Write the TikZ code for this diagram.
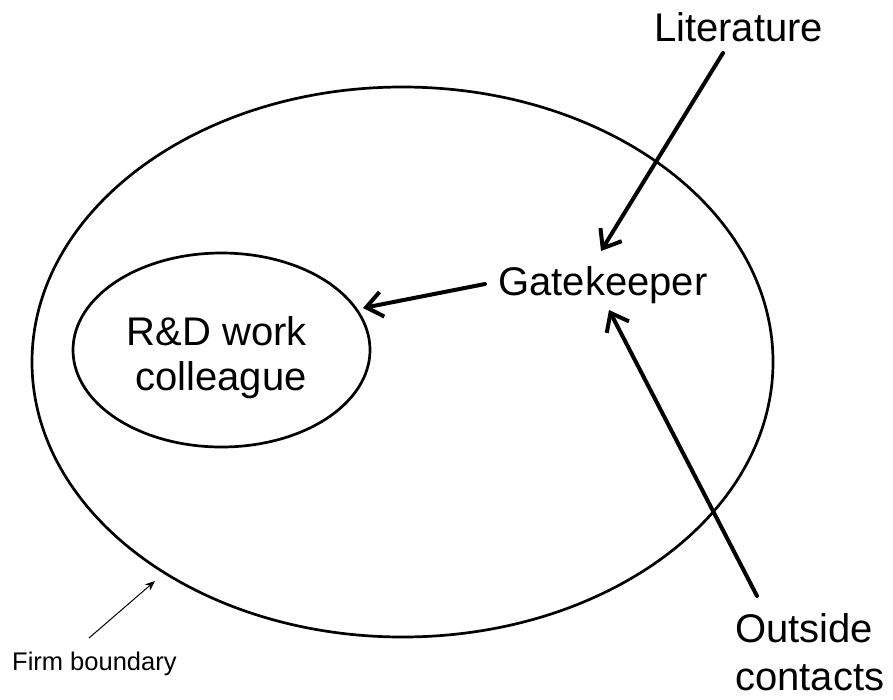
\documentclass[tikz,border=0pt]{standalone}
\usepackage{fontspec}
\setmainfont{Liberation Sans}
\usetikzlibrary{arrows.meta,shapes.geometric}
\begin{document}
\begin{tikzpicture}[x=1pt,y=-1pt,
  lbl/.style={inner sep=0pt, anchor=base, font=\fontsize{40}{45}\selectfont},
  lblw/.style={inner sep=0pt, anchor=base west, font=\fontsize{40}{45}\selectfont},
  small/.style={inner sep=0pt, anchor=base west, font=\fontsize{25.5}{30}\selectfont},
  oval/.style={draw, ellipse, inner sep=0pt, line width=2.7pt},
  arr/.style={line width=4pt, line cap=round, -{Straight Barb[length=16pt,width=25pt]}},
  thin/.style={line width=1pt, -{Stealth[length=10pt,width=8pt]}}]
\useasboundingbox (0,0) rectangle (893,699);
% firm boundary
\node[oval, minimum width=741pt, minimum height=550pt] (firm) at (402.5,362) {};
% R&D colleague
\node[oval, minimum width=297pt, minimum height=194pt] (rd) at (221.5,350) {};
\node[lbl] (rd1) at (217,345) {R\&D work};
\node[lbl] (rd2) at (221,390) {colleague};
% labels
\node[lbl] (gk) at (603,295) {Gatekeeper};
\node[lbl] (lit) at (738.5,41) {Literature};
\node[lblw] (out1) at (735,642) {Outside};
\node[lblw] (out2) at (735,690) {contacts};
\node[small] (fb) at (12,670) {Firm boundary};
% connectors
\draw[arr] ([shift={(-15.5,12)}]lit.base) -- ([shift={(-2,-44)}]gk.base);
\draw[arr] ([shift={(22,-46)}]out1.base west) -- ([shift={(6,15)}]gk.base);
\draw[arr] ([shift={(-118,-11)}]gk.base) -- ([shift={(141.5,-42)}]rd.center);
\draw[thin] ([shift={(77,-32)}]fb.base west) -- ([shift={(-247.5,219)}]firm.center);
\end{tikzpicture}
\end{document}
